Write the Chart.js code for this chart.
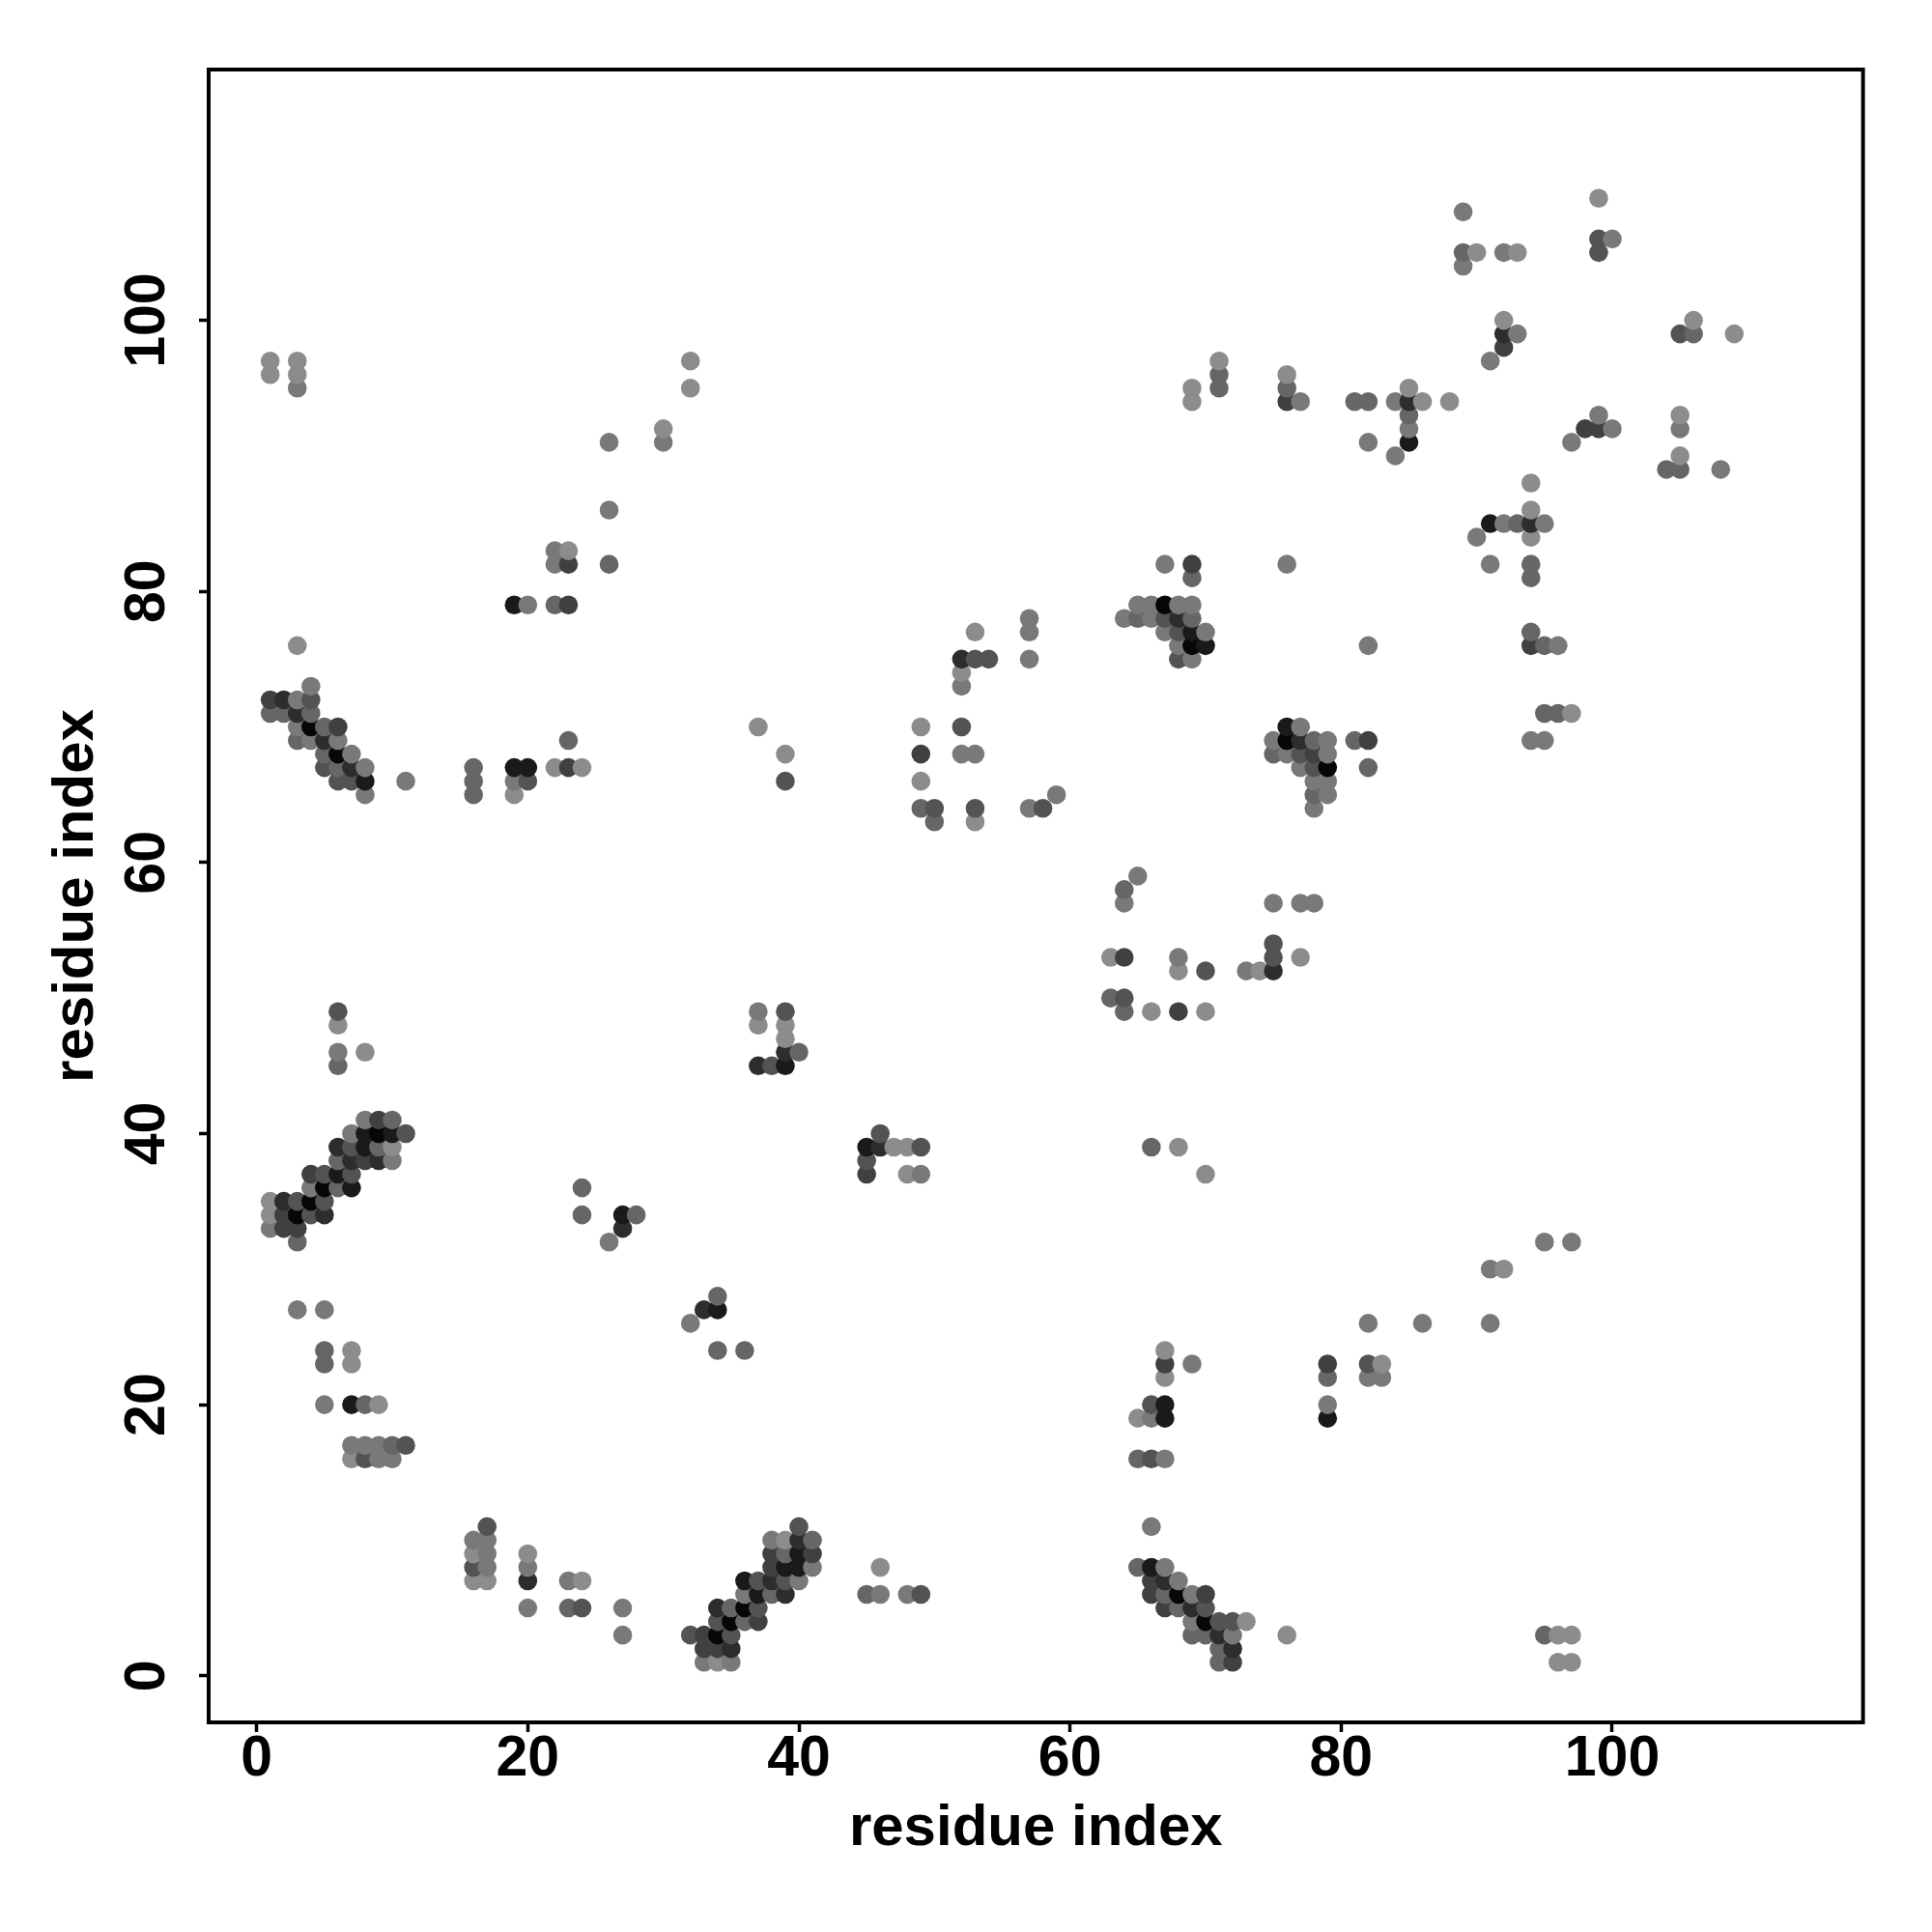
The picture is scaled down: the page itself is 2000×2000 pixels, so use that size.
<!DOCTYPE html>
<html>
<head>
<meta charset="utf-8">
<title>residue contacts</title>
<script src="https://cdn.jsdelivr.net/npm/chart.js@4"></script>
<style>
    html, body { margin: 0; padding: 0; background: #fff; }
    canvas { display: block; }
</style>
</head>
<body>
<canvas id="contactChart" width="2000" height="2000"></canvas>
<script>
// Residue pairs [x, y], grouped by how strong the contact looks (0 = weakest)
const strength0 = [[8,46],[6,48],[7,24],[7,23],[9,20],[7,16],[16,9],[16,7],[17,7],[20,9],[24,7],[1,35],[1,34],[10,39],
    [3,76],[1,97],[1,96],[3,97],[3,96],[30,92],[32,97],[32,95],[23,83],[22,67],[24,67],[19,65],[39,10],[34,1],
    [73,4],[76,3],[96,3],[97,3],[96,1],[97,1],[92,30],[83,23],[37,48],[39,48],[39,47],[47,39],[48,39],[48,37],
    [68,39],[70,37],[67,24],[67,22],[65,19],[46,8],[66,49],[70,49],[68,52],[69,95],[69,94],[71,97],[76,96],[53,77],
    [52,74],[37,70],[39,68],[49,70],[49,66],[53,63],[77,53],[63,53],[74,52],[90,105],[93,105],[92,100],[106,100],
    [109,99],[85,95],[86,94],[88,94],[105,93],[105,90],[94,88],[94,86],[94,84],[97,71],[99,109]];
const strength1 = [[6,46],[3,27],[5,27],[5,20],[7,17],[8,17],[9,17],[9,16],[10,16],[16,10],[17,10],[17,9],[20,5],[23,7],
    [27,5],[27,3],[26,32],[8,41],[7,40],[10,38],[1,33],[4,36],[4,73],[3,72],[3,70],[6,69],[4,69],[7,68],[8,67],[11,66],
    [8,65],[38,10],[41,8],[40,7],[36,6],[33,1],[35,1],[67,8],[68,7],[69,6],[69,4],[72,3],[65,79],[66,79],[68,79],[69,79],
    [64,78],[66,78],[67,77],[70,77],[68,76],[69,75],[77,70],[75,69],[79,69],[76,68],[79,68],[77,67],[78,66],[79,66],
    [79,65],[78,64],[17,8],[20,8],[19,66],[37,49],[22,83],[22,82],[26,91],[26,86],[30,91],[49,37],[32,26],[66,19],[66,11],
    [67,16],[69,23],[79,20],[95,32],[97,32],[91,30],[82,26],[86,26],[91,26],[82,22],[83,22],[3,95],[46,6],[48,6],[64,57],
    [65,59],[57,78],[57,77],[57,75],[52,73],[52,68],[53,68],[57,64],[59,65],[75,57],[77,57],[78,57],[68,53],[73,52],
    [77,94],[67,82],[76,82],[84,94],[89,108],[100,106],[89,104],[92,105],[93,99],[91,97],[85,92],[100,92],[105,92],[99,93],
    [82,91],[97,91],[84,90],[108,89],[92,85],[95,85],[90,84],[91,82],[82,76],[96,76],[94,69],[95,69],[20,79]];
const strength2 = [[10,17],[6,45],[5,24],[5,23],[23,5],[24,34],[28,34],[16,67],[16,66],[16,65],[26,82],[22,79],[23,69],
    [10,41],[9,39],[6,38],[3,32],[6,36],[1,71],[2,71],[4,71],[3,69],[5,70],[5,68],[6,67],[41,10],[39,9],[35,5],[36,4],[38,6],
    [65,8],[67,6],[68,5],[69,3],[70,3],[71,2],[71,1],[65,78],[69,78],[69,81],[78,69],[75,68],[81,69],[82,67],[78,65],
    [34,28],[34,24],[36,24],[24,36],[40,46],[45,6],[66,39],[63,50],[64,49],[64,58],[50,63],[71,96],[71,95],[76,95],[81,94],
    [82,94],[89,105],[106,99],[85,93],[104,89],[105,89],[93,85],[94,82],[94,81],[94,77],[95,76],[95,71],[96,71],[65,16],
    [79,22],[95,3],[49,64],[8,20]];
const strength3 = [[11,40],[11,17],[16,8],[24,5],[8,16],[6,49],[17,11],[39,49],[46,40],[49,39],[45,38],[49,6],[66,20],[66,16],
    [5,37],[3,35],[5,35],[4,34],[7,37],[7,39],[4,72],[6,66],[7,66],[5,67],[40,11],[37,7],[39,7],[37,5],[34,4],[32,3],[35,3],
    [71,4],[72,4],[70,5],[67,78],[68,77],[68,75],[77,68],[78,67],[20,66],[38,45],[39,66],[50,64],[53,64],[58,64],[54,75],
    [53,75],[52,70],[64,50],[70,52],[75,54],[75,53],[99,106],[99,105],[105,99],[82,23]];
const strength4 = [[2,34],[2,33],[3,33],[4,37],[8,38],[9,41],[1,72],[6,70],[38,8],[38,9],[41,9],[37,4],[33,3],[33,2],[34,2],
    [66,7],[66,6],[67,5],[70,6],[72,1],[82,69],[78,68],[69,82],[23,79],[23,82],[23,67],[49,68],[64,53],[68,49],[45,37],
    [67,23],[79,23],[76,94],[98,92],[99,92],[92,98],[94,76]];
const strength5 = [[2,35],[6,39],[5,34],[9,38],[7,38],[2,72],[3,71],[5,69],[7,67],[34,5],[39,6],[40,10],[35,2],[38,7],
    [67,7],[69,5],[71,3],[72,2],[68,78],[77,69],[27,33],[33,27],[37,45],[39,46],[46,39],[52,75],[75,52],[92,99],[94,85],
    [85,94],[20,7]];
const strength6 = [[8,40],[10,40],[8,39],[6,37],[7,36],[8,66],[19,79],[19,67],[20,67],[7,20],[39,8],[40,8],[36,7],[37,6],
    [40,9],[66,8],[69,77],[70,76],[76,70],[27,34],[34,27],[39,45],[45,39],[67,19],[67,20],[79,19],[85,91],[91,85]];
const strength7 = [[9,40],[5,36],[4,35],[3,34],[4,70],[6,68],[36,5],[35,4],[34,3],[68,6],[70,4],[67,79],[69,76],[76,69],[79,67]];

const strengthGroups = [strength0, strength1, strength2, strength3, strength4, strength5, strength6, strength7];
const tickValues = [0, 20, 40, 60, 80, 100];
const axisTitle = 'residue index';

// Flatten the groups and draw in residue order, later points sit on top
const contacts = strengthGroups
    .flatMap((group, level) => group.map(([x, y]) => ({ x, y, level })))
    .sort((a, b) => a.x - b.x || a.y - b.y);

function shadeFor(level) {
    const g = 140 - level * 19;
    return `rgb(${g}, ${g}, ${g})`;
}

const boxPlugin = {
    id: 'plotBox',
    afterDraw(chart) {
        const { ctx, chartArea: a } = chart;
        ctx.save();
        ctx.strokeStyle = '#000';
        ctx.lineWidth = 4;
        ctx.strokeRect(a.left, a.top, a.right - a.left, a.bottom - a.top);
        ctx.restore();
    }
};

const fontFamily = '"Liberation Sans", Arial, sans-serif';

function axisOptions(size) {
    return {
        type: 'linear',
        max: 118.5,
        afterBuildTicks: axis => { axis.ticks = tickValues.map(value => ({ value })); },
        border: { display: false },
        grid: {
            drawOnChartArea: false,
            drawTicks: true,
            tickLength: 10,
            tickWidth: 3.5,
            tickColor: '#000'
        },
        title: {
            display: true,
            text: axisTitle,
            color: '#000',
            font: { family: fontFamily, size: 60, weight: 'bold', lineHeight: 1.2 }
        },
        ticks: {
            color: '#000',
            autoSkip: false,
            font: { family: fontFamily, size: 59, weight: 'bold', lineHeight: 1.2 }
        },
        afterFit: size
    };
}

const xAxis = axisOptions(axis => { axis.height = 217; });
xAxis.min = -3.54;
xAxis.title.padding = { top: 0, bottom: 71 };
xAxis.ticks.padding = -7;
xAxis.ticks.maxRotation = 0;
xAxis.ticks.minRotation = 0;

const yAxis = axisOptions(axis => { axis.width = 216; });
yAxis.min = -3.44;
yAxis.title.padding = { top: 43, bottom: 0 };
yAxis.ticks.padding = 3;
yAxis.ticks.minRotation = 90;
yAxis.ticks.maxRotation = 90;
yAxis.ticks.crossAlign = 'center';

new Chart(document.getElementById('contactChart').getContext('2d'), {
    type: 'scatter',
    data: {
        datasets: [{
            label: 'contacts',
            data: contacts,
            pointRadius: 9.8,
            pointBorderWidth: 0,
            pointBackgroundColor: contacts.map(c => shadeFor(c.level)),
            clip: false
        }]
    },
    options: {
        responsive: false,
        animation: false,
        devicePixelRatio: 1,
        layout: { padding: { left: 0, top: 72, right: 71.4, bottom: 0 } },
        plugins: { legend: { display: false }, tooltip: { enabled: false } },
        scales: { x: xAxis, y: yAxis }
    },
    plugins: [boxPlugin]
});
</script>
</body>
</html>
